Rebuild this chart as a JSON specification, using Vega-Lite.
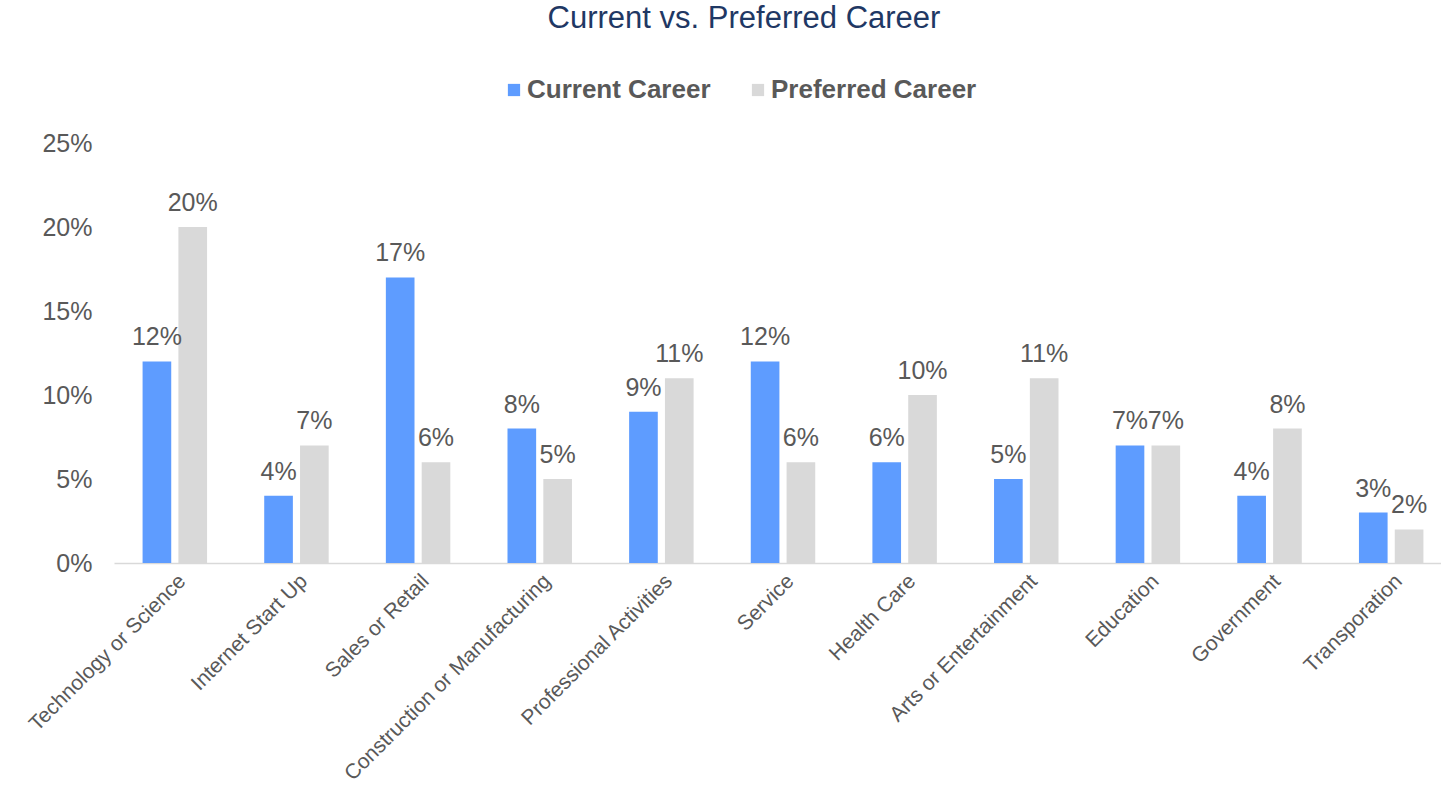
{
  "$schema": "https://vega.github.io/schema/vega-lite/v6.json",
  "autosize": {"type": "none"},
  "width": 1338,
  "height": 420,
  "padding": {"left": 114, "top": 143, "right": -11, "bottom": 226},
  "background": "white",
  "title": {
    "text": "Current vs. Preferred Career",
    "font": "Liberation Sans",
    "fontSize": 31,
    "fontWeight": "normal",
    "color": "#1F3864",
    "anchor": "middle",
    "dx": -39,
    "offset": 42
  },
  "data": {
    "values": [
      {"career": "Technology or Science", "series": "Current Career", "value": 0.12},
      {"career": "Technology or Science", "series": "Preferred Career", "value": 0.20},
      {"career": "Internet Start Up", "series": "Current Career", "value": 0.04},
      {"career": "Internet Start Up", "series": "Preferred Career", "value": 0.07},
      {"career": "Sales or Retail", "series": "Current Career", "value": 0.17},
      {"career": "Sales or Retail", "series": "Preferred Career", "value": 0.06},
      {"career": "Construction or Manufacturing", "series": "Current Career", "value": 0.08},
      {"career": "Construction or Manufacturing", "series": "Preferred Career", "value": 0.05},
      {"career": "Professional Activities", "series": "Current Career", "value": 0.09},
      {"career": "Professional Activities", "series": "Preferred Career", "value": 0.11},
      {"career": "Service", "series": "Current Career", "value": 0.12},
      {"career": "Service", "series": "Preferred Career", "value": 0.06},
      {"career": "Health Care", "series": "Current Career", "value": 0.06},
      {"career": "Health Care", "series": "Preferred Career", "value": 0.10},
      {"career": "Arts or Entertainment", "series": "Current Career", "value": 0.05},
      {"career": "Arts or Entertainment", "series": "Preferred Career", "value": 0.11},
      {"career": "Education", "series": "Current Career", "value": 0.07},
      {"career": "Education", "series": "Preferred Career", "value": 0.07},
      {"career": "Government", "series": "Current Career", "value": 0.04},
      {"career": "Government", "series": "Preferred Career", "value": 0.08},
      {"career": "Transporation", "series": "Current Career", "value": 0.03},
      {"career": "Transporation", "series": "Preferred Career", "value": 0.02}
    ]
  },
  "encoding": {
    "x": {
      "field": "career",
      "type": "nominal",
      "sort": null,
      "scale": {"paddingInner": 0.47, "paddingOuter": 0.235},
      "axis": {
        "title": null,
        "labelAngle": -45,
        "labelFont": "Liberation Sans",
        "labelFontSize": 21,
        "labelColor": "#595959",
        "labelPadding": 7,
        "labelLimit": 500,
        "ticks": false,
        "domainColor": "#D9D9D9",
        "domainWidth": 1.5
      }
    },
    "xOffset": {
      "field": "series",
      "type": "nominal",
      "scale": {"paddingInner": 0.2}
    },
    "y": {
      "field": "value",
      "type": "quantitative",
      "scale": {"domain": [0, 0.25], "nice": false},
      "axis": {
        "title": null,
        "format": ".0%",
        "values": [0, 0.05, 0.1, 0.15, 0.2, 0.25],
        "grid": false,
        "domain": false,
        "ticks": false,
        "labelOverlap": false,
        "labelFont": "Liberation Sans",
        "labelFontSize": 25,
        "labelColor": "#595959",
        "labelPadding": 22
      }
    }
  },
  "layer": [
    {
      "mark": {"type": "bar"},
      "encoding": {
        "color": {
          "field": "series",
          "type": "nominal",
          "scale": {"domain": ["Current Career", "Preferred Career"], "range": ["#5E9CFF", "#D9D9D9"]},
          "legend": {
            "title": null,
            "orient": "none",
            "direction": "horizontal",
            "legendX": 387,
            "legendY": -66,
            "symbolType": "square",
            "symbolSize": 150,
            "symbolStrokeWidth": 0,
            "labelFont": "Liberation Sans",
            "labelFontSize": 26,
            "labelFontWeight": "bold",
            "labelColor": "#595959",
            "labelOffset": 0,
            "labelLimit": 400,
            "columnPadding": 34
          }
        }
      }
    },
    {
      "mark": {
        "type": "text",
        "baseline": "bottom",
        "dy": -11,
        "font": "Liberation Sans",
        "fontSize": 25,
        "fill": "#595959"
      },
      "encoding": {
        "text": {"field": "value", "type": "quantitative", "format": ".0%"}
      }
    }
  ],
  "config": {
    "view": {"stroke": null}
  }
}
